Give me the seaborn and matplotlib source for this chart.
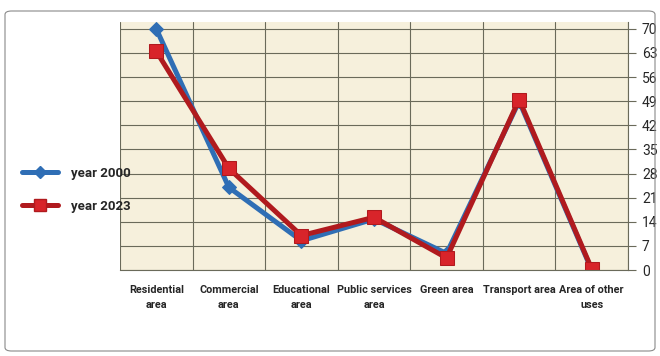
import matplotlib
matplotlib.use("Agg")
import matplotlib.pyplot as plt
import seaborn as sns
import pandas as pd
import numpy as np
from matplotlib.patches import FancyBboxPatch
from matplotlib.lines import Line2D

categories = ["Residential\narea", "Commercial\narea", "Educational\narea",
              "Public services\narea", "Green area", "Transport area", "Area of other\nuses"]
year2000 = [70, 24, 8.5, 14.8, 4.8, 49, 0]
year2023 = [63.5, 29.5, 10, 15.3, 3.5, 49.5, 0.3]
yticks = [0, 7, 14, 21, 28, 35, 42, 49, 56, 63, 70]
series_names = ["year 2000", "year 2023"]

df = pd.DataFrame({
    "cat": categories * 2,
    "value": year2000 + year2023,
    "series": [series_names[0]] * len(categories) + [series_names[1]] * len(categories),
})
df["x"] = list(range(len(categories))) * 2

sns.set_theme(style="white")
plt.rcParams['font.family'] = ['Roboto', 'DejaVu Sans']

fig = plt.figure(figsize=(6.6, 3.56), dpi=100)
fig.patch.set_facecolor("white")
ax = fig.add_axes([120/660, 1 - 270/356, 508/660, 248/356])
ax.set_facecolor("#F6F0DC")

blue = "#2F6EB5"
red_line = "#B01A1E"
red_mark = "#D8242A"

sns.lineplot(data=df[df.series == series_names[0]], x="x", y="value", ax=ax,
             color=blue, lw=3.6, marker="D", markersize=7.5,
             markerfacecolor=blue, markeredgecolor=blue, legend=False)
sns.lineplot(data=df[df.series == series_names[1]], x="x", y="value", ax=ax,
             color=red_line, lw=3.6, marker="s", markersize=9.5,
             markerfacecolor=red_mark, markeredgecolor=red_line, legend=False)

ax.set_xlim(-0.5, len(categories) - 0.5)
ax.set_ylim(0, 72)
ax.set_xticks(range(len(categories)))
ax.set_xticklabels(categories, fontsize=7.8, fontweight="bold", linespacing=1.55)
ax.set_xticks(np.arange(-0.5, len(categories), 1), minor=True)
ax.yaxis.tick_right()
ax.set_yticks(yticks)
ax.set_yticklabels([str(v) for v in yticks], fontsize=10)
ax.grid(True, which="minor", axis="x", color="#6A6A5A", lw=0.8)
ax.grid(True, which="major", axis="y", color="#6A6A5A", lw=0.8)
ax.tick_params(axis="x", which="major", length=0, pad=11)
ax.tick_params(axis="x", which="minor", length=7, color="#6A6A5A", width=0.8, direction="out")
ax.tick_params(axis="y", which="major", length=6, color="#6A6A5A", width=0.8, direction="out", pad=4)
ax.set_xlabel("")
ax.set_ylabel("")
for s in ["top", "left"]:
    ax.spines[s].set_visible(False)
ax.spines["bottom"].set_color("#6A6A5A")
ax.spines["right"].set_color("#6A6A5A")
ax.spines["bottom"].set_linewidth(0.8)
ax.spines["right"].set_linewidth(0.8)

handles = [
    Line2D([0], [0], color=blue, lw=3.6, marker="D", markersize=6, markerfacecolor=blue),
    Line2D([0], [0], color=red_line, lw=3.6, marker="s", markersize=8, markerfacecolor=red_mark),
]
fig.legend(handles, series_names, loc="center left", bbox_to_anchor=(10/660, 1 - 190/356),
           frameon=False, prop={"weight": "bold", "size": 9.5}, labelspacing=1.5,
           handlelength=2.7, handletextpad=1.0)

border = FancyBboxPatch((5/660, 5/356), 650/660, 340/356,
                        boxstyle="round,pad=0,rounding_size=0.01",
                        transform=fig.transFigure, fill=False, edgecolor="#8A8A8A", lw=0.8)
fig.patches.append(border)

fig.savefig("out.png", dpi=100)
